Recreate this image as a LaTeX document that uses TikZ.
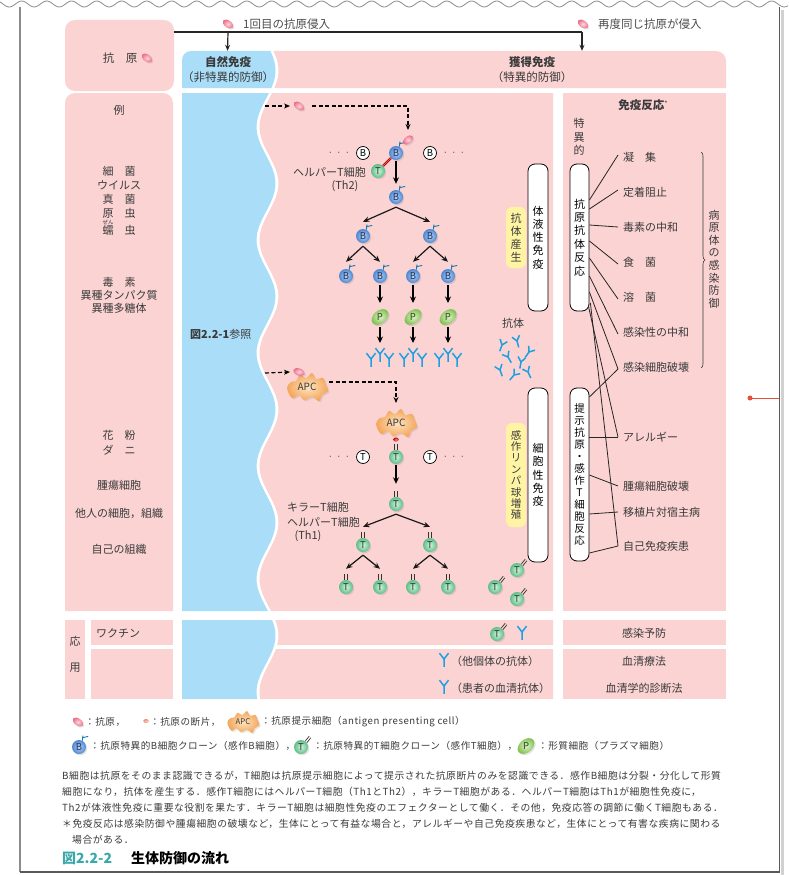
\documentclass[tikz,border=0pt]{standalone}
\usepackage{fontspec}
\setmainfont{Noto Sans CJK JP}
\newfontfamily\capfont{Noto Sans CJK JP}[LetterSpace=5.5]
\usetikzlibrary{arrows.meta,shadows,shapes.geometric,decorations.pathreplacing}

\definecolor{pinkc}{HTML}{FBD3D3}
\definecolor{bluec}{HTML}{AADEF8}
\definecolor{yelc}{HTML}{FFF4A3}
\definecolor{txtc}{HTML}{3A3A3A}
\definecolor{abc}{HTML}{1BA1E2}
\definecolor{bcol}{HTML}{4F86D0}
\definecolor{bhi}{HTML}{BCD5F5}
\definecolor{bdark}{HTML}{1E3560}
\definecolor{tcol}{HTML}{5EBD86}
\definecolor{thi}{HTML}{D6F3E1}
\definecolor{tdark}{HTML}{1F3D2C}
\definecolor{pcol}{HTML}{7CBE4E}
\definecolor{phi}{HTML}{E0F4C8}
\definecolor{pdark}{HTML}{2D4A1A}
\definecolor{apcc}{HTML}{F4A65A}
\definecolor{apchi}{HTML}{FDE5C2}
\definecolor{agc}{HTML}{EC6A84}
\definecolor{aghi}{HTML}{FDD6DD}
\definecolor{frc}{HTML}{EE8A6E}
\definecolor{tealc}{HTML}{3AA8A8}
\definecolor{redc}{HTML}{E4523A}

% B cell with its receptor
\newcommand\Bcell[2]{%
  \node[bcell] (#1) at (#2) {B};
  \draw[recb] (#1.62) -- ++(0.5,-5) ++(-0.2,2) -- ++(5.5,-1.2);}
% T cell with a straight double receptor on top
\newcommand\Tcell[2]{%
  \node[tcell] (#1) at (#2) {T};
  \draw[rect] ([xshift=-1.4pt]#1.north) -- ++(0,-6) ([xshift=1.4pt]#1.north) -- ++(0,-6);}
% T cell with a slanted double receptor
\newcommand\TcellS[2]{%
  \node[tcell] (#1) at (#2) {T};
  \draw[rect] (#1.54) -- ++(4,-5) (#1.36) -- ++(4,-5);}
% resting lymphocyte
\newcommand\Naive[3]{\node[naive] (#1) at (#2) {#3};}
% antibody: position, rotation, scale
\newcommand\AbY[3]{%
  \begin{scope}[shift={(#1)}, rotate=#2, scale=#3]
    \draw[abst] (0,6) -- (0,0) -- (-3.5,-4.5) (0,0) -- (3.5,-4.5);
  \end{scope}}
% antigen presenting cell: name, centre, scale
\newcommand\APCblob[3]{%
  \begin{scope}[shift={(#2)}, scale=#3]
    \path[inner color=apchi, outer color=apcc, drop shadow={shadow xshift=1.3pt, shadow yshift=-1.3pt, opacity=0.2}]
      plot[smooth cycle, tension=0.6] coordinates {(-20,1) (-16,-5) (-11,-6) (-7,-12) (-1,-9) (5,-14) (9,-8) (16,-9) (19,-2) (21,4) (15,8) (12,14) (5,10) (-3,13) (-8,8) (-15,11)};
  \end{scope}
  \node[apcn, scale=#3] (#1) at (#2) {APC};}

\begin{document}
\begin{tikzpicture}[x=1pt,y=-1pt,
  declare function={fw(\t)=267.5-9.5*cos(3.18584*(\t-127));},
  lbl/.style={inner sep=0pt, text=txtc, font=\fontsize{11}{13}\selectfont},
  lgt/.style={inner sep=0pt, text=txtc, font=\capfont\fontsize{9.6}{12}\selectfont},
  capt/.style={inner sep=0pt, text=txtc, font=\capfont\fontsize{9.8}{12}\selectfont},
  hdr/.style={inner sep=0pt, text=txtc, align=center, font=\fontsize{11.5}{15}\selectfont},
  vstack/.style={align=center, inner sep=0pt, text=black, font=\fontsize{11}{13.2}\selectfont},
  wbox/.style={draw=black, line width=0.8pt, fill=white, rounded corners=7pt, minimum width=19pt},
  ybox/.style={fill=yelc, rounded corners=6pt, minimum width=20pt},
  cellbase/.style={circle, minimum size=14pt, inner sep=0pt, font=\fontsize{9.5}{9.5}\selectfont, drop shadow={shadow xshift=1.3pt, shadow yshift=-1.3pt, opacity=0.22}},
  bcell/.style={cellbase, inner color=bhi, outer color=bcol, text=bdark},
  tcell/.style={cellbase, inner color=thi, outer color=tcol, text=tdark},
  naive/.style={circle, minimum size=13pt, inner sep=0pt, draw=black, line width=0.7pt, fill=white, font=\fontsize{9.5}{9.5}\selectfont},
  pcell/.style={ellipse, minimum width=19pt, minimum height=13pt, inner sep=0pt, inner color=phi, outer color=pcol, rotate=40, font=\fontsize{9.5}{9.5}\selectfont, text=pdark, drop shadow={shadow xshift=1.3pt, shadow yshift=-1.3pt, opacity=0.22}},
  antigen/.style={ellipse, minimum width=12pt, minimum height=7pt, inner sep=0pt, inner color=aghi, outer color=agc, drop shadow={shadow xshift=1.2pt, shadow yshift=-1.2pt, opacity=0.2}},
  frag/.style={ellipse, minimum width=5.5pt, minimum height=4pt, inner sep=0pt, inner color=frc!40, outer color=frc},
  apcn/.style={minimum width=38pt, minimum height=26pt, inner sep=0pt, font=\fontsize{10}{10}\selectfont, text=txtc},
  recb/.style={draw=abc!75!black, line width=0.9pt},
  rect/.style={draw=black!80, line width=0.7pt},
  abst/.style={draw=abc, line width=1.5pt},
  thickarr/.style={draw=black, line width=1.8pt, -{Stealth[length=6.5pt,width=6pt]}},
  brarr/.style={draw=black!90, line width=1.2pt, -{Stealth[length=6.5pt,width=5.5pt]}},
  dasharr/.style={draw=black, line width=1.2pt, dash pattern=on 4pt off 2.5pt, -{Stealth[length=6pt,width=5pt]}},
  toparr/.style={draw=black!85, line width=1.2pt, -{Stealth[length=6pt,width=5pt]}},
  conn/.style={draw=black!85, line width=0.8pt},
]
\useasboundingbox (0,0) rectangle (788,875);
\fill[white] (0,0) rectangle (788,875);

% page frame
\draw[black!45, line width=0.8pt] plot[variable=\t, domain=0:788, samples=400] ({\t},{4-3*cos(14.4*(\t-21.7))});
\draw[black!45, line width=1.2pt] (20,7) -- (20,872);
\fill[black!18] (780.5,10) rectangle (784,875);
\draw[black!65, line width=1.5pt] (779.5,7) -- (779.5,872) -- (20,872);

% ---------- backgrounds ----------
\node[fill=pinkc, rounded corners=10pt, minimum width=109pt, minimum height=71pt, inner sep=0pt] (agbox) at (119.5,55.5) {};
\fill[pinkc] (65,611) -- (65,103) arc[start angle=180,end angle=270,radius=10] -- (163,93) arc[start angle=270,end angle=360,radius=10] -- (173,611) -- cycle;

% header row
\fill[bluec] (182,88) -- (182,60) arc[start angle=180,end angle=270,radius=9] -- plot[variable=\t,domain=51:88,samples=20] ({fw(\t)-1.5},{\t}) -- cycle;
\fill[pinkc] plot[variable=\t,domain=88:51,samples=20] ({fw(\t)+1.5},{\t}) -- (716,51) arc[start angle=270,end angle=360,radius=10] -- (726,88) -- cycle;
\node[minimum width=91pt, minimum height=37pt, inner sep=0pt] (natbox) at (227.5,69.5) {};
\node[minimum width=448pt, minimum height=37pt, inner sep=0pt] (acqbox) at (502,69.5) {};

% main row
\fill[bluec] (182,93) -- plot[variable=\t,domain=93:611,samples=90] ({fw(\t)-1.5},{\t}) -- (182,611) -- cycle;
\fill[pinkc] plot[variable=\t,domain=611:93,samples=90] ({fw(\t)+1.5},{\t}) -- (553,93) -- (553,611) -- cycle;
\fill[pinkc] (563,93) rectangle (726,611);

% application rows
\fill[pinkc] (65,620) rectangle (85,699);
\fill[pinkc] (91,620) rectangle (173,645);
\fill[pinkc] (91,649) rectangle (173,699);
\fill[bluec] (182,620) -- plot[variable=\t,domain=620:699,samples=20] ({fw(\t)-1.5},{\t}) -- (182,699) -- cycle;
\fill[pinkc] plot[variable=\t,domain=645:620,samples=10] ({fw(\t)+1.5},{\t}) -- (553,620) -- (553,645) -- cycle;
\fill[pinkc] plot[variable=\t,domain=699:649,samples=15] ({fw(\t)+1.5},{\t}) -- (553,649) -- (553,699) -- cycle;
\fill[pinkc] (563,620) rectangle (726,645);
\fill[pinkc] (563,649) rectangle (726,699);

% ---------- entry of the antigen ----------
\node[antigen, rotate=-35] (agtop1) at (228,24) {};
\node[lbl, anchor=west, text=black!70, font=\fontsize{11.5}{13}\selectfont] (first) at (243,24) {1回目の抗原侵入};
\node[antigen, rotate=-35] (agtop2) at (583,24) {};
\node[lbl, anchor=west, text=black!70, font=\fontsize{11.5}{13}\selectfont] (again) at (598,24) {再度同じ抗原が侵入};
\coordinate (jn) at (228,32);
\coordinate (jr) at (582,32);
\draw[black!85, line width=1.2pt] (agbox.east |- jn) -- (jr);
\draw[toparr] (jn) -- (natbox.north);
\draw[toparr] (jr) -- (acqbox.north -| jr);

\node[lbl, font=\fontsize{11.5}{13}\selectfont] (agtxt) at (120,58) {抗　原};
\node[antigen, rotate=-35] (agic) at (147,58) {};

\node[hdr] (nat) at (228,69.5) {{\bfseries 自然免疫}\\（非特異的防御）};
\node[hdr] (acq) at (532,69.5) {{\bfseries 獲得免疫}\\（特異的防御）};

% ---------- examples column ----------
\node[lbl] (ex) at (119,110) {例};
\node[lbl, align=center, font=\fontsize{11}{13.9}\selectfont] (ex1) at (119,201) {細　菌\\ウイルス\\真　菌\\原　虫\\[4pt]蠕　虫};
\node[lbl, font=\fontsize{5.5}{6}\selectfont] (ruby) at (108,222) {ぜん};
\node[lbl, align=center, font=\fontsize{11}{13}\selectfont] (ex2) at (119,295) {毒　素\\異種タンパク質\\異種多糖体};
\node[lbl, align=center, font=\fontsize{11}{15}\selectfont] (ex3) at (119,442.5) {花　粉\\ダ　ニ};
\node[lbl] (ex4) at (119,485) {腫瘍細胞};
\node[lbl] (ex5) at (119,513) {他人の細胞，組織};
\node[lbl] (ex6) at (119,549) {自己の組織};

\node[lbl, anchor=west] (ref) at (190,334) {{\bfseries 図2.2-1}参照};

% ---------- humoral branch ----------
\coordinate (d1s) at (265,106);
\node[antigen, rotate=-35] (ag1) at (299,106) {};
\draw[dasharr] (d1s) -- ([xshift=-9pt]ag1.center);

\node[lbl] (dl1) at (339,153) {$\cdot\;\cdot\;\cdot$};
\node[lbl] (dr1) at (454,153) {$\cdot\;\cdot\;\cdot$};
\Naive{bn1}{363,153}{B}
\Naive{bn2}{430,153}{B}
\Bcell{b0}{396,153}
\node[antigen, rotate=40] (agb0) at (408,140) {};
\draw[dasharr] ([xshift=13pt]ag1.center) -| ([yshift=10pt]agb0.center);

\node[tcell] (th2) at (378,171) {T};
\draw[red!55!black, line width=0.6pt, double=red!70, double distance=1pt] (th2) -- (b0);
\node[lbl, anchor=east] (th2a) at (366,172) {ヘルパーT細胞};
\node[lbl] (th2b) at (345,186) {(Th2)};

\Bcell{b1}{396,197}
\draw[thickarr] ([yshift=-1pt]b0.south) -- ([yshift=6pt]b1.north);
\Bcell{b2a}{363,236}
\Bcell{b2b}{430,236}
\draw[brarr] ([yshift=-3pt]b1.south) -- ([yshift=7pt]b2a.north);
\draw[brarr] ([yshift=-3pt]b1.south) -- ([yshift=7pt]b2b.north);
\Bcell{b3a}{346,276}
\Bcell{b3b}{380,276}
\Bcell{b3c}{413,276}
\Bcell{b3d}{448,276}
\draw[brarr] ([yshift=-3pt]b2a.south) -- ([yshift=7pt]b3a.north);
\draw[brarr] ([yshift=-3pt]b2a.south) -- ([yshift=7pt]b3b.north);
\draw[brarr] ([yshift=-3pt]b2b.south) -- ([yshift=7pt]b3c.north);
\draw[brarr] ([yshift=-3pt]b2b.south) -- ([yshift=7pt]b3d.north);

\foreach \n/\xx in {1/380,2/413,3/448}{
  \node[pcell] (p\n) at (\xx,317) {\rotatebox{-40}{P}};
  \coordinate (k\n) at (\xx,343);
  \AbY{\xx-9,359}{0}{1.3}
  \AbY{\xx+9,359}{0}{1.3}
  \AbY{\xx,354}{0}{1.3}
}
\draw[thickarr] ([yshift=-2pt]b3b.south) -- ([yshift=14pt]p1.center);
\draw[thickarr] ([yshift=-2pt]b3c.south) -- ([yshift=14pt]p2.center);
\draw[thickarr] ([yshift=-2pt]b3d.south) -- ([yshift=14pt]p3.center);
\draw[thickarr] ([yshift=-10pt]p1.center) -- (k1);
\draw[thickarr] ([yshift=-10pt]p2.center) -- (k2);
\draw[thickarr] ([yshift=-10pt]p3.center) -- (k3);

\node[lbl] (abl) at (513,323) {抗体};
\AbY{502,345}{-20}{1.1}
\AbY{517,341}{15}{1.1}
\AbY{529,352}{-35}{1.1}
\AbY{508,357}{30}{1.1}
\AbY{521,362}{-10}{1.1}
\AbY{500,370}{20}{1.1}
\AbY{514,375}{-40}{1.1}
\AbY{528,372}{25}{1.1}

\node[ybox, minimum height=61pt] (abp) at (516,237.5) {};
\node[vstack, text=txtc] at (abp) {抗\\体\\産\\生};
\node[wbox, minimum height=147pt, minimum width=20pt] (hum) at (538,237.5) {};
\node[vstack] at (hum) {体\\液\\性\\免\\疫};

% ---------- cellular branch ----------
\coordinate (d2s) at (265,373);
\APCblob{apc1}{307,387}{1}
\node[antigen, rotate=-20] (agp) at (299,372) {};
\draw[dasharr] (d2s) -- ([xshift=-9pt]agp.center);
\APCblob{apc2}{396,423}{1}
\draw[dasharr] ([xshift=22pt,yshift=5pt]apc1.center) -| ([yshift=20pt]apc2.center);
\node[frag, inner color=red!40, outer color=red!75!black] (fr0) at (396,439.5) {};

\node[lbl] (dl2) at (339,457) {$\cdot\;\cdot\;\cdot$};
\node[lbl] (dr2) at (454,457) {$\cdot\;\cdot\;\cdot$};
\Naive{tn1}{363,457}{T}
\Naive{tn2}{430,457}{T}
\Tcell{t0}{396,457}
\Tcell{t1}{396,504}
\draw[thickarr] ([yshift=-1pt]t0.south) -- ([yshift=13pt]t1.north);
\Tcell{t2a}{363,545}
\Tcell{t2b}{430,545}
\draw[brarr] ([yshift=-3pt]t1.south) -- ([yshift=11pt]t2a.north);
\draw[brarr] ([yshift=-3pt]t1.south) -- ([yshift=11pt]t2b.north);
\Tcell{t3a}{346,587}
\Tcell{t3b}{380,587}
\Tcell{t3c}{413,587}
\Tcell{t3d}{448,587}
\draw[brarr] ([yshift=-3pt]t2a.south) -- ([yshift=11pt]t3a.north);
\draw[brarr] ([yshift=-3pt]t2a.south) -- ([yshift=11pt]t3b.north);
\draw[brarr] ([yshift=-3pt]t2b.south) -- ([yshift=11pt]t3c.north);
\draw[brarr] ([yshift=-3pt]t2b.south) -- ([yshift=11pt]t3d.north);

\node[lbl, anchor=west] (kil) at (287,507) {キラーT細胞};
\node[lbl, anchor=west] (th1a) at (287,522) {ヘルパーT細胞};
\node[lbl] (th1b) at (308,536) {(Th1)};

\TcellS{ts1}{517,570}
\TcellS{ts2}{495,587}
\TcellS{ts3}{517,599}

\node[ybox, minimum height=104pt] (lymp) at (516,475) {};
\node[vstack, text=txtc, font=\fontsize{10.5}{11.4}\selectfont] at (lymp) {感\\作\\リ\\ン\\パ\\球\\増\\殖};
\node[wbox, minimum height=174pt, minimum width=20pt] (cel) at (538,475) {};
\node[vstack] at (cel) {細\\胞\\性\\免\\疫};

% ---------- immune responses ----------
\node[lbl, font=\fontsize{11.5}{13}\selectfont] (resp) at (643,105) {{\bfseries 免疫反応}\raisebox{3pt}{\fontsize{7}{7}\selectfont *}};
\node[vstack, text=txtc, font=\fontsize{11}{13.5}\selectfont] (spec) at (579,137) {特\\異\\的};
\node[wbox, minimum height=147pt] (aab) at (579.5,237.5) {};
\node[vstack, font=\fontsize{11}{13.4}\selectfont] at (aab) {抗\\原\\抗\\体\\反\\応};
\node[wbox, minimum height=173pt] (tcr) at (579.5,474.5) {};
\node[vstack, font=\fontsize{10.5}{12}\selectfont] at (tcr) {提\\示\\抗\\原\\・\\感\\作\\T\\細\\胞\\反\\応};

\foreach \n/\yy/\s in {1/157/凝　集, 2/192/定着阻止, 3/227/毒素の中和, 4/262/食　菌, 5/297/溶　菌, 6/332/感染性の中和, 7/367/感染細胞破壊, 8/437/アレルギー, 9/486/腫瘍細胞破壊, 10/512/移植片対宿主病, 11/546/自己免疫疾患}
  \node[lbl, anchor=west] (l\n) at (623,\yy) {\s};

\draw[conn] (aab.east |- 0,200) -- ([xshift=-5pt,yshift=2pt]l1.west);
\draw[conn] (aab.east |- 0,209) -- ([xshift=-5pt,yshift=2pt]l2.west);
\draw[conn] (aab.east |- 0,225) -- ([xshift=-5pt]l3.west);
\draw[conn] (aab.east |- 0,241) -- ([xshift=-5pt,yshift=-2pt]l4.west);
\draw[conn] (aab.east |- 0,258) -- ([xshift=-5pt,yshift=-2pt]l5.west);
\draw[conn] (aab.east |- 0,276) -- ([xshift=-5pt,yshift=-2pt]l6.west);
\draw[conn] (aab.east |- 0,292) -- ([xshift=-5pt,yshift=-2pt]l7.west);
\draw[conn] ([xshift=-1pt]aab.east |- 0,306) -- ([xshift=-5pt]l8.west);
\draw[conn] ([xshift=1pt]aab.east |- 0,303) -- ([xshift=-5pt]l11.west);
\draw[conn] (tcr.east |- 0,397) -- ([xshift=-5pt,yshift=-2pt]l7.west);
\draw[conn] (tcr.east |- 0,437) -- ([xshift=-5pt]l8.west);
\draw[conn] (tcr.east |- 0,475) -- ([xshift=-5pt]l9.west);
\draw[conn] (tcr.east |- 0,514) -- ([xshift=-5pt]l10.west);
\draw[conn] (tcr.east |- 0,553) -- ([xshift=-5pt]l11.west);

\draw[txtc, line width=0.6pt, decorate, decoration={brace, amplitude=4pt}] (701,152) -- (701,368);
\node[vstack, text=txtc, font=\fontsize{11}{12.6}\selectfont] (prot) at (714,259) {病\\原\\体\\の\\感\\染\\防\\御};

% ---------- applications ----------
\node[lbl, align=center, font=\fontsize{11}{26}\selectfont] (app) at (75,654) {応\\用};
\node[lbl, anchor=west] (vac) at (96,633) {ワクチン};
\TcellS{tv}{497,634}
\AbY{522,632}{0}{1.3}
\AbY{444,659}{0}{1.3}
\node[lbl, anchor=west] (oth) at (451,661) {（他個体の抗体）};
\AbY{444,686}{0}{1.3}
\node[lbl, anchor=west] (pat) at (451,688) {（患者の血清抗体）};
\node[lbl] (u1) at (644,633) {感染予防};
\node[lbl] (u2) at (644,661) {血清療法};
\node[lbl] (u3) at (644,688) {血清学的診断法};

% ---------- legend ----------
\node[antigen, rotate=-35] (lgag) at (78,722) {};
\node[lgt, anchor=west] (lg1) at (85,722) {：抗原，};
\node[frag] (lgfr) at (146,721) {};
\node[lgt, anchor=west] (lg2) at (150,722) {：抗原の断片，};
\APCblob{lgapc}{243,722}{0.78}
\node[lgt, anchor=west] (lg3) at (261,722) {：抗原提示細胞（antigen presenting cell）};
\Bcell{lgb}{79,747}
\node[lgt, anchor=west] (lg4) at (90,746) {：抗原特異的B細胞クローン（感作B細胞），};
\TcellS{lgt1}{301,747}
\node[lgt, anchor=west] (lg5) at (313,746) {：抗原特異的T細胞クローン（感作T細胞），};
\node[pcell] (lgp) at (526,746) {\rotatebox{-40}{P}};
\node[lgt, anchor=west] (lg6) at (538,746) {：形質細胞（プラズマ細胞）};

% ---------- caption ----------
\node[capt, anchor=west] (c1) at (62,776) {B細胞は抗原をそのまま認識できるが，T細胞は抗原提示細胞によって提示された抗原断片のみを認識できる．感作B細胞は分裂・分化して形質};
\node[capt, anchor=west] (c2) at (62,792) {細胞になり，抗体を産生する．感作T細胞にはヘルパーT細胞（Th1とTh2），キラーT細胞がある．ヘルパーT細胞はTh1が細胞性免疫に，};
\node[capt, anchor=west] (c3) at (62,808) {Th2が体液性免疫に重要な役割を果たす．キラーT細胞は細胞性免疫のエフェクターとして働く．その他，免疫応答の調節に働くT細胞もある．};
\node[capt, anchor=west] (c4) at (62,824) {＊免疫反応は感染防御や腫瘍細胞の破壊など，生体にとって有益な場合と，アレルギーや自己免疫疾患など，生体にとって有害な疾病に関わる};
\node[capt, anchor=west] (c5) at (72,840) {場合がある．};
\node[inner sep=0pt, anchor=west, text=tealc, font=\bfseries\fontsize{14}{16}\selectfont] (title1) at (62,858) {図2.2-2};
\node[inner sep=0pt, anchor=west, font=\bfseries\fontsize{14}{16}\selectfont] (title2) at (131,858) {生体防御の流れ};

% margin marker
\fill[redc] (750,398) circle (2.5);
\draw[redc, line width=1pt] (750,398) -- (779,398);
\end{tikzpicture}
\end{document}
